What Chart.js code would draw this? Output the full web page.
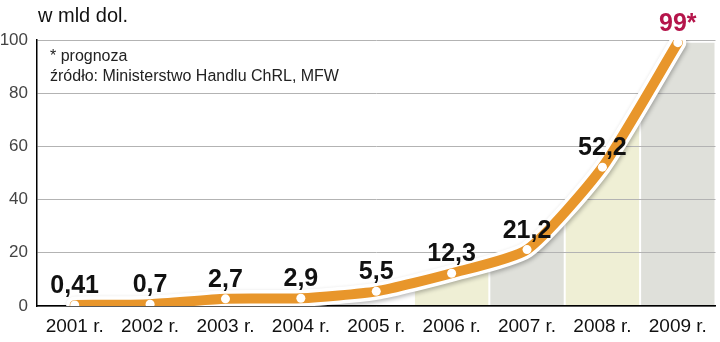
<!DOCTYPE html>
<html>
<head>
<meta charset="utf-8">
<script src="https://cdn.jsdelivr.net/npm/chart.js@4/dist/chart.umd.min.js"></script>
<style>
  html, body { margin: 0; padding: 0; background: #fff; }
  #wrap { width: 720px; height: 342px; position: relative; }
</style>
</head>
<body>
<div id="wrap"><canvas id="exportChart"></canvas></div>
<script>
// chinese exports, billion dollars
const years = ['2001 r.', '2002 r.', '2003 r.', '2004 r.', '2005 r.', '2006 r.', '2007 r.', '2008 r.', '2009 r.'];
const values = [0.41, 0.7, 2.7, 2.9, 5.5, 12.3, 21.2, 52.2, 99];
const forecast = [false, false, false, false, false, false, false, false, true];
const yTicks = [0, 20, 40, 60, 80, 100];
const shadedFrom = 5; // columns shaded from 2006 on

const FONT = "'Liberation Sans', Arial, sans-serif";
const ORANGE = '#e8962b';
const shadeColors = ['#efefd5', '#dfe0da'];

function fmt(v, i) {
    return String(v).replace('.', ',') + (forecast[i] ? '*' : '');
}

// alternating columns filled under the line
const shadePlugin = {
    id: 'shade',
    beforeDraw(chart) {
        const ctx = chart.ctx;
        const area = chart.chartArea;
        const x = chart.scales.x;
        const meta = chart.getDatasetMeta(0);
        const line = meta.dataset;
        const pts = meta.data;
        const step = x.getPixelForValue(1) - x.getPixelForValue(0);
        line.updateControlPoints(area, 'x');
        for (let i = shadedFrom; i < years.length; i++) {
            const c = x.getPixelForValue(i);
            ctx.save();
            ctx.beginPath();
            ctx.rect(c - step / 2 + 1, area.top - 2, step - 2, area.bottom - area.top + 2);
            ctx.clip();
            ctx.beginPath();
            line.path(ctx);
            const last = pts[pts.length - 1];
            ctx.lineTo(area.right, last.y);
            ctx.lineTo(area.right, area.bottom);
            ctx.lineTo(pts[0].x, area.bottom);
            ctx.closePath();
            ctx.fillStyle = shadeColors[(i - shadedFrom) % 2];
            ctx.fill();
            ctx.restore();
        }
    }
};

// soft shadow under the white outline
const shadowPlugin = {
    id: 'lineShadow',
    beforeDatasetDraw(chart, args) {
        if (args.index !== 1) return;
        const ctx = chart.ctx;
        ctx.save();
        ctx.shadowColor = 'rgba(0,0,0,0.28)';
        ctx.shadowBlur = 4;
        ctx.shadowOffsetX = 1;
        ctx.shadowOffsetY = 2;
    },
    afterDatasetDraw(chart, args) {
        if (args.index !== 1) return;
        chart.ctx.restore();
    }
};

// value labels and the texts around the plot
const textPlugin = {
    id: 'texts',
    afterDatasetsDraw(chart) {
        const ctx = chart.ctx;
        const pts = chart.getDatasetMeta(0).data;
        ctx.save();
        ctx.font = 'bold 25px ' + FONT;
        ctx.textAlign = 'center';
        ctx.textBaseline = 'alphabetic';
        pts.forEach((p, i) => {
            ctx.fillStyle = forecast[i] ? '#b5154b' : '#111';
            ctx.fillText(fmt(values[i], i), p.x, p.y - 12);
        });
        ctx.textAlign = 'left';
        ctx.fillStyle = '#111';
        ctx.font = '20px ' + FONT;
        ctx.fillText('w mld dol.', 38, 22);
        ctx.fillStyle = '#222';
        ctx.font = '16px ' + FONT;
        ctx.fillText('* prognoza', 50, 61);
        ctx.fillText('źródło: Ministerstwo Handlu ChRL, MFW', 50, 81);
        ctx.restore();
    }
};

const data = {
    labels: years,
    datasets: [{
        data: values,
        borderColor: ORANGE,
        borderWidth: 10,
        borderCapStyle: 'round',
        borderJoinStyle: 'round',
        tension: 0.2,
        pointRadius: 4.5,
        pointBorderWidth: 0,
        pointBackgroundColor: '#fff',
        fill: false
    }, {
        data: values,
        borderColor: '#fff',
        borderWidth: 17,
        borderCapStyle: 'round',
        borderJoinStyle: 'round',
        tension: 0.2,
        pointRadius: 0,
        fill: false
    }]
};

const options = {
    responsive: true,
    maintainAspectRatio: false,
    animation: false,
    layout: { padding: { top: 40, right: 3, left: 0, bottom: 0 } },
    plugins: {
        legend: { display: false },
        tooltip: { enabled: false }
    },
    scales: {
        x: {
            offset: true,
            grid: { display: false, drawTicks: false },
            border: { color: '#000', width: 1.5 },
            ticks: {
                color: '#111',
                padding: 9,
                font: { size: 19, family: FONT }
            },
            afterFit: s => { s.height = 36; }
        },
        y: {
            min: 0,
            max: 100,
            afterBuildTicks: s => { s.ticks = yTicks.map(v => ({ value: v })); },
            grid: { color: '#b3b3b3', lineWidth: 1, drawTicks: false },
            border: { color: '#000', width: 1.5 },
            ticks: {
                color: '#444',
                padding: 9,
                font: { size: 17, family: FONT }
            },
            afterFit: s => { s.width = 37; }
        }
    }
};

new Chart('exportChart', { type: 'line', data, options, plugins: [shadePlugin, shadowPlugin, textPlugin] });
</script>
</body>
</html>
